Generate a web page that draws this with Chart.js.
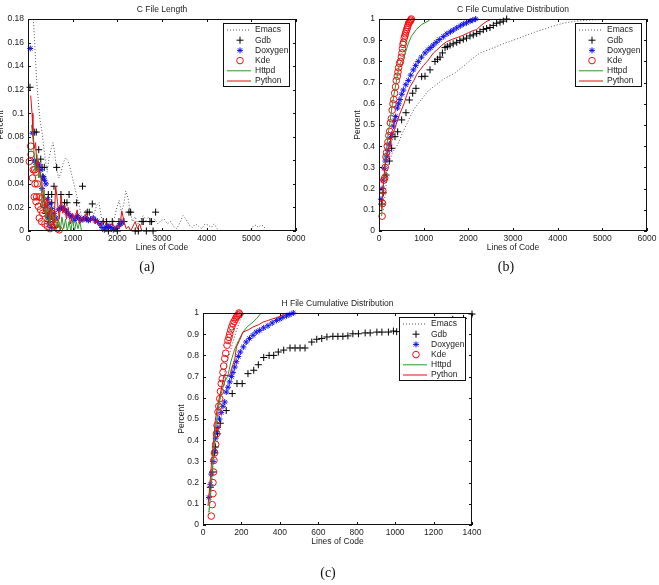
<!DOCTYPE html>
<html lang="en">
<head>
<meta charset="UTF-8">
<title>File Length Distributions</title>
<style>
    body { margin: 0; background: #fff; }
    #page { position: relative; width: 659px; height: 585px; overflow: hidden; }
    canvas { position: absolute; left: 0; top: 0; }
    .tag {
        position: absolute;
        font-family: "Liberation Serif", serif;
        font-size: 14px;
        color: #111;
        transform: translate(-50%, -50%);
    }
</style>
<script src="https://cdn.jsdelivr.net/npm/chart.js"></script>
</head>
<body>
<div id="page">
    <canvas id="chartA" width="659" height="585"></canvas>
    <canvas id="chartB" width="659" height="585"></canvas>
    <canvas id="chartC" width="659" height="585"></canvas>
    <div class="tag" style="left:147px; top:267px">(a)</div>
    <div class="tag" style="left:506px; top:267px">(b)</div>
    <div class="tag" style="left:328px; top:573px">(c)</div>
</div>
<script>
// ---- data: [lines of code, percent] ----
const seriesNames = ['Emacs', 'Gdb', 'Doxygen', 'Kde', 'Httpd', 'Python'];

// (a) C File Length
const aTicksX = [0, 1000, 2000, 3000, 4000, 5000, 6000];
const aTicksY = [0, 0.02, 0.04, 0.06, 0.08, 0.1, 0.12, 0.14, 0.16, 0.18];
const aEmacs = [[100,0.19],[120,0.18],[150,0.16],[190,0.13],[230,0.11],[270,0.094],[310,0.085],[350,0.072],[390,0.06],[430,0.05],
    [470,0.062],[520,0.07],[560,0.075],[600,0.066],[640,0.052],[690,0.045],[740,0.05],[790,0.058],[840,0.062],[890,0.06],
    [940,0.054],[990,0.046],[1040,0.038],[1090,0.03],[1140,0.022],[1190,0.014],[1240,0.01],[1290,0.018],[1340,0.012],[1390,0.008],
    [1440,0.012],[1490,0.016],[1540,0.022],[1590,0.024],[1640,0.012],[1690,0.006],[1740,0.01],[1790,0.004],[1840,0.008],[1890,0.004],
    [1940,0.012],[1990,0.02],[2040,0.026],[2090,0.016],[2140,0.022],[2190,0.034],[2240,0.028],[2290,0.016],[2340,0.008],[2400,0.012],
    [2460,0.006],[2520,0.01],[2580,0.013],[2640,0.009],[2700,0.012],[2770,0.007],[2840,0.01],[2910,0.006],[2980,0.009],[3050,0.01],
    [3120,0.006],[3190,0.008],[3260,0.004],[3330,0.002],[3400,0.007],[3470,0.013],[3540,0.01],[3610,0.005],[3680,0.003],[3750,0.006],
    [3820,0.004],[3890,0.002],[3960,0.006],[4030,0.005],[4100,0.003],[4170,0.006],[4230,0.002],[4300,0],[4980,0],[5040,0.004],
    [5100,0.005],[5160,0.003],[5220,0.005],[5280,0.004],[5320,0.001]];
const aGdb = [[45,0.122],[140,0.084],[185,0.084],[240,0.069],[285,0.061],[250,0.054],[315,0.054],[365,0.054],[642,0.054],[330,0.046],
    [582,0.038],[1220,0.038],[455,0.031],[530,0.031],[738,0.031],[920,0.031],[530,0.024],[818,0.024],[872,0.024],[1090,0.024],
    [1440,0.023],[400,0.015],[1327,0.016],[1372,0.016],[2260,0.016],[2298,0.016],[2857,0.016],[460,0.008],[1685,0.008],[1760,0.008],
    [1887,0.008],[2036,0.008],[2148,0.008],[2551,0.008],[2580,0.008],[2730,0.008],[2767,0.008],[600,0.003],[1800,0],[2000,0],
    [2400,0],[2470,0],[2650,0],[2800,0]];
const aDoxygen = [[50,0.155],[100,0.083],[141,0.06],[170,0.058],[200,0.055],[253,0.056],[290,0.052],[313,0.036],[343,0.046],[370,0.043],
    [403,0.04],[380,0.02],[418,0.015],[440,0.027],[430,0.012],[470,0.006],[492,0.023],[492,0.011],[520,0.003],[530,0.019],
    [582,0.015],[627,0.011],[679,0.018],[715,0.019],[753,0.02],[790,0.019],[828,0.018],[865,0.016],[902,0.015],[940,0.013],
    [977,0.012],[1030,0.009],[1068,0.011],[1105,0.013],[1140,0.011],[1180,0.009],[1230,0.01],[1277,0.011],[1315,0.01],[1351,0.009],
    [1400,0.01],[1463,0.011],[1510,0.009],[1552,0.008],[1612,0.006],[1657,0.003],[1709,0.001],[1745,0.003],[1776,0.004],[1810,0.004],
    [1851,0.003],[1910,0.001],[1950,0.002],[1985,0.002],[2045,0.005],[2075,0.006],[2104,0.008]];
const aKde = [[30,0.059],[60,0.072],[67,0.065],[100,0.045],[119,0.052],[150,0.052],[179,0.05],[157,0.04],[209,0.04],[141,0.029],
    [194,0.029],[253,0.029],[313,0.028],[179,0.025],[231,0.021],[283,0.018],[328,0.015],[253,0.011],[306,0.008],[350,0.022],
    [380,0.006],[400,0.024],[418,0.018],[433,0.004],[460,0.012],[492,0.014],[492,0.002],[520,0.008],[540,0.015],[560,0.01],
    [600,0.005],[627,0.0065],[660,0.002],[700,0.001]];
const aHttpd = [[80,0.09],[120,0.075],[160,0.05],[200,0.065],[240,0.045],[280,0.05],[320,0.02],[360,0.035],[400,0.01],[440,0.025],
    [480,0.005],[520,0.02],[560,0.008],[600,0.015],[640,0.003],[680,0.01],[720,0],[760,0.012],[800,0.002],[840,0.01],
    [880,0],[920,0.008],[960,0],[1000,0.01],[1040,0],[1080,0.008],[1120,0.002],[1160,0.008],[1200,0]];
const aPython = [[60,0.115],[90,0.1],[110,0.085],[140,0.07],[170,0.075],[200,0.055],[230,0.06],[260,0.05],[300,0.045],[340,0.03],
    [380,0.02],[420,0.028],[460,0.012],[500,0.02],[540,0.01],[580,0.005],[620,0.038],[660,0.025],[700,0.01],[740,0.03],
    [780,0.015],[820,0.022],[860,0.01],[900,0.02],[950,0.006],[1000,0.015],[1050,0.01],[1100,0.018],[1150,0.006],[1200,0.012],
    [1250,0.008],[1300,0.015],[1350,0.01],[1400,0.008],[1450,0.012],[1500,0.006],[1550,0.01],[1600,0.004],[1700,0.008],[1800,0.004],
    [1900,0.006],[1950,0.002],[2000,0.005],[2050,0.002],[2100,0.017],[2150,0.008],[2200,0.002],[2250,0.004],[2300,0],[2400,0.008],
    [2450,0.002],[2500,0.006],[2550,0]];

// (b) C File Cumulative Distribution
const bTicksX = [0, 1000, 2000, 3000, 4000, 5000, 6000];
const bTicksY = [0, 0.1, 0.2, 0.3, 0.4, 0.5, 0.6, 0.7, 0.8, 0.9, 1];
const bEmacs = [[100,0.1],[150,0.2],[201,0.31],[300,0.37],[425,0.41],[520,0.46],[612,0.5],[700,0.54],[798,0.58],[950,0.62],
    [1097,0.66],[1280,0.69],[1470,0.72],[1700,0.745],[1963,0.79],[2100,0.815],[2261,0.84],[2450,0.855],[2634,0.87],[2800,0.885],
    [3007,0.9],[3200,0.915],[3380,0.93],[3550,0.943],[3753,0.956],[3950,0.97],[4127,0.98],[4400,0.99],[4724,0.995],[5000,0.998],[5200,1]];
const bGdb = [[60,0.127],[97,0.18],[157,0.264],[231,0.33],[284,0.39],[358,0.445],[418,0.468],[507,0.524],[604,0.558],[679,0.618],
    [754,0.65],[828,0.673],[955,0.728],[1030,0.73],[1142,0.76],[1254,0.8],[1310,0.81],[1366,0.82],[1420,0.84],[1478,0.865],
    [1530,0.87],[1590,0.877],[1660,0.883],[1740,0.89],[1810,0.898],[1888,0.905],[1960,0.91],[2037,0.92],[2110,0.925],[2187,0.932],
    [2260,0.94],[2336,0.95],[2410,0.955],[2485,0.96],[2560,0.97],[2634,0.98],[2710,0.985],[2783,0.99],[2858,1]];
const bDoxygen = [[45,0.15],[70,0.2],[90,0.24],[119,0.296],[145,0.33],[171,0.35],[200,0.38],[231,0.41],[260,0.44],[284,0.456],
    [321,0.495],[350,0.52],[373,0.54],[410,0.58],[440,0.6],[470,0.62],[510,0.645],[545,0.665],[600,0.69],[657,0.71],
    [710,0.735],[768,0.76],[820,0.78],[880,0.8],[950,0.82],[1030,0.84],[1100,0.855],[1160,0.865],[1216,0.877],[1280,0.89],
    [1350,0.903],[1440,0.917],[1520,0.93],[1600,0.94],[1664,0.948],[1740,0.958],[1820,0.968],[1888,0.976],[1960,0.982],[2040,0.99],
    [2100,0.995],[2164,1]];
const bKde = [[70,0.07],[80,0.13],[85,0.19],[110,0.24],[127,0.25],[140,0.3],[157,0.35],[170,0.37],[185,0.4],[201,0.42],
    [220,0.45],[239,0.47],[255,0.51],[276,0.53],[295,0.57],[313,0.6],[330,0.62],[350,0.65],[370,0.68],[388,0.71],
    [410,0.73],[425,0.75],[440,0.77],[460,0.79],[480,0.8],[500,0.82],[515,0.84],[525,0.86],[537,0.88],[550,0.89],
    [565,0.91],[580,0.92],[589,0.93],[605,0.94],[620,0.95],[635,0.96],[649,0.97],[665,0.98],[680,0.985],[700,0.99],
    [710,0.995],[723,1]];
const bHttpd = [[60,0.07],[80,0.15],[100,0.22],[130,0.3],[160,0.37],[200,0.45],[250,0.52],[300,0.6],[350,0.66],[400,0.72],
    [450,0.78],[500,0.8],[575,0.83],[649,0.88],[723,0.918],[835,0.95],[947,0.973],[1097,0.99],[1160,1]];
const bPython = [[60,0.1],[90,0.2],[130,0.3],[170,0.35],[220,0.4],[300,0.45],[380,0.5],[460,0.55],[560,0.6],[620,0.64],
    [694,0.68],[780,0.71],[850,0.74],[920,0.76],[992,0.78],[1080,0.8],[1150,0.82],[1220,0.84],[1291,0.853],[1400,0.875],
    [1515,0.893],[1650,0.905],[1780,0.915],[1888,0.924],[2000,0.935],[2100,0.945],[2187,0.95],[2260,0.965],[2350,0.98],[2420,0.99],
    [2485,0.995],[2500,1]];

// (c) H File Cumulative Distribution
const cTicksX = [0, 200, 400, 600, 800, 1000, 1200, 1400];
const cTicksY = [0, 0.1, 0.2, 0.3, 0.4, 0.5, 0.6, 0.7, 0.8, 0.9, 1];
const cEmacs = [[30,0.06],[40,0.15],[50,0.25],[60,0.35],[70,0.45],[85,0.55],[100,0.65],[115,0.73],[135,0.8],[155,0.86],
    [175,0.92],[195,0.97],[215,1]];
const cGdb = [[38,0.178],[50,0.25],[61,0.34],[64,0.368],[75,0.43],[90,0.48],[121,0.54],[152,0.62],[177,0.667],[204,0.667],
    [234,0.714],[264,0.73],[288,0.756],[316,0.79],[344,0.8],[368,0.8],[392,0.816],[420,0.825],[453,0.835],[479,0.835],
    [505,0.835],[531,0.835],[566,0.863],[592,0.876],[618,0.88],[645,0.887],[676,0.89],[702,0.89],[728,0.89],[754,0.892],
    [780,0.902],[809,0.902],[844,0.906],[870,0.906],[905,0.91],[931,0.91],[965,0.91],[991,0.915],[1008,0.912],[1050,0.92],
    [1100,0.93],[1150,0.94],[1200,0.95],[1250,0.96],[1300,0.97],[1356,0.975],[1400,0.995]];
const cDoxygen = [[31,0.13],[38,0.19],[43,0.24],[52,0.3],[61,0.35],[66,0.41],[72,0.44],[78,0.46],[86,0.5],[95,0.53],
    [104,0.56],[113,0.58],[121,0.627],[130,0.65],[139,0.675],[148,0.7],[156,0.72],[165,0.745],[173,0.77],[184,0.795],
    [194,0.816],[210,0.84],[225,0.863],[242,0.88],[260,0.895],[277,0.91],[295,0.918],[316,0.93],[338,0.94],[360,0.953],
    [382,0.965],[400,0.972],[416,0.98],[435,0.987],[452,0.993],[470,1]];
const cKde = [[43,0.042],[48,0.096],[52,0.148],[52,0.2],[55,0.25],[57,0.305],[60,0.34],[66,0.38],[70,0.43],[73,0.47],
    [78,0.533],[82,0.56],[87,0.596],[91,0.63],[95,0.667],[100,0.69],[104,0.72],[108,0.75],[113,0.785],[118,0.81],
    [125,0.848],[130,0.87],[135,0.885],[139,0.9],[145,0.92],[150,0.935],[156,0.95],[162,0.96],[168,0.97],[173,0.98],
    [178,0.985],[183,0.99],[187,1],[190,0.995]];
const cHttpd = [[31,0.06],[40,0.15],[48,0.25],[56,0.35],[65,0.45],[75,0.52],[85,0.58],[95,0.62],[110,0.67],[130,0.706],
    [145,0.77],[165,0.83],[185,0.87],[208,0.91],[230,0.935],[260,0.957],[280,0.975],[303,1]];
const cPython = [[26,0.09],[35,0.18],[45,0.3],[55,0.4],[65,0.5],[80,0.58],[95,0.64],[109,0.705],[139,0.705],[150,0.74],
    [165,0.78],[174,0.84],[190,0.87],[208,0.91],[235,0.92],[260,0.934],[290,0.945],[312,0.957],[340,0.965],[364,0.973],
    [390,0.98],[416,0.99],[430,1]];

// ---- styling ----
const FONT = '"Liberation Sans", Arial, sans-serif';
const styles = {
    Emacs:   { line: true, color: '#555555', dash: [1, 2] },
    Gdb:     { point: 'cross', color: '#000000', radius: 3.5 },
    Doxygen: { point: 'star', color: '#1010ee', radius: 3 },
    Kde:     { point: 'circle', color: '#ee1010', radius: 3.3 },
    Httpd:   { line: true, color: '#2a9a2a' },
    Python:  { line: true, color: '#e01010' }
};

function toPts(arr) {
    return arr.map(p => ({ x: p[0], y: p[1] }));
}

function makeDataset(name, arr, i) {
    const s = styles[name];
    if (s.line) {
        return {
            label: name, data: toPts(arr), showLine: true,
            borderColor: s.color, backgroundColor: s.color, borderWidth: 1,
            borderDash: s.dash || [], pointRadius: 0, order: 6 - i
        };
    }
    return {
        label: name, data: toPts(arr), showLine: false,
        pointStyle: s.point, pointRadius: s.radius,
        pointBorderColor: s.color,
        pointBackgroundColor: s.point === 'star' ? s.color : 'rgba(0,0,0,0)',
        pointBorderWidth: 1, borderColor: s.color, clip: false, order: 6 - i
    };
}

function fmt(v) {
    return String(+v.toFixed(2));
}

function makePanel(id, p) {
    const W = 659, H = 585;

    // frame, inward ticks, labels and legend drawn on top of the data, MATLAB style
    const framePlugin = {
        id: 'frame',
        afterDatasetsDraw(chart) {
            const ctx = chart.ctx;
            const a = chart.chartArea;
            const xs = chart.scales.x, ys = chart.scales.y;
            const L = a.left, R = a.right, T = a.top, B = a.bottom;
            ctx.save();
            ctx.strokeStyle = '#111';
            ctx.lineWidth = 1;
            ctx.strokeRect(L + 0.5, T + 0.5, R - L - 1, B - T - 1);

            ctx.beginPath();
            p.xTicks.forEach(v => {
                const x = Math.round(xs.getPixelForValue(v)) + 0.5;
                ctx.moveTo(x, B); ctx.lineTo(x, B - 3);
                ctx.moveTo(x, T); ctx.lineTo(x, T + 3);
            });
            p.yTicks.forEach(v => {
                const y = Math.round(ys.getPixelForValue(v)) + 0.5;
                ctx.moveTo(L, y); ctx.lineTo(L + 3, y);
                ctx.moveTo(R, y); ctx.lineTo(R - 3, y);
            });
            ctx.stroke();

            ctx.fillStyle = '#222';
            ctx.font = '8.5px ' + FONT;
            ctx.textBaseline = 'middle';
            ctx.textAlign = 'center';
            p.xTicks.forEach(v => ctx.fillText(fmt(v), xs.getPixelForValue(v), B + 7.5));
            ctx.textAlign = 'right';
            p.yTicks.forEach(v => ctx.fillText(fmt(v), L - 4, ys.getPixelForValue(v)));

            ctx.textAlign = 'center';
            ctx.fillText(p.title, (L + R) / 2, T - 9.5);
            ctx.fillText('Lines of Code', (L + R) / 2, B + 17);
            ctx.save();
            ctx.translate(p.yLabelX, (T + B) / 2);
            ctx.rotate(-Math.PI / 2);
            ctx.fillText('Percent', 0, 0);
            ctx.restore();

            // legend box
            const lx = p.legend[0], ly = p.legend[1];
            ctx.fillStyle = '#fff';
            ctx.fillRect(lx, ly, 67, 64);
            ctx.strokeStyle = '#111';
            ctx.strokeRect(lx + 0.5, ly + 0.5, 66, 63);
            seriesNames.forEach((name, i) => {
                const s = styles[name];
                const y = ly + 7 + i * 10.2;
                if (s.line) {
                    ctx.strokeStyle = s.color;
                    ctx.setLineDash(s.dash || []);
                    ctx.beginPath();
                    ctx.moveTo(lx + 4, y); ctx.lineTo(lx + 28, y);
                    ctx.stroke();
                    ctx.setLineDash([]);
                } else {
                    ctx.strokeStyle = s.color;
                    ctx.fillStyle = s.point === 'star' ? s.color : 'rgba(0,0,0,0)';
                    Chart.helpers.drawPoint(ctx, { pointStyle: s.point, radius: s.radius, borderWidth: 1, rotation: 0 }, lx + 17, y);
                }
                ctx.fillStyle = '#222';
                ctx.textAlign = 'left';
                ctx.fillText(name, lx + 32, y);
            });
            ctx.restore();
        }
    };

    new Chart(document.getElementById(id), {
        type: 'scatter',
        data: { datasets: seriesNames.map((n, i) => makeDataset(n, p.series[i], i)) },
        options: {
            responsive: false,
            animation: false,
            devicePixelRatio: 1,
            events: [],
            layout: { padding: { left: p.area[0], top: p.area[1], right: W - p.area[2], bottom: H - p.area[3] } },
            plugins: { legend: { display: false }, tooltip: { enabled: false }, title: { display: false } },
            scales: {
                x: { type: 'linear', display: false, min: p.xTicks[0], max: p.xTicks[p.xTicks.length - 1] },
                y: { type: 'linear', display: false, min: p.yTicks[0], max: p.yTicks[p.yTicks.length - 1] }
            }
        },
        plugins: [framePlugin]
    });
}

makePanel('chartA', {
    area: [28, 19, 296, 231], title: 'C File Length', yLabelX: 1,
    xTicks: aTicksX, yTicks: aTicksY, legend: [223, 23],
    series: [aEmacs, aGdb, aDoxygen, aKde, aHttpd, aPython]
});
makePanel('chartB', {
    area: [379, 19, 647, 231], title: 'C File Cumulative Distribution', yLabelX: 358,
    xTicks: bTicksX, yTicks: bTicksY, legend: [575, 23],
    series: [bEmacs, bGdb, bDoxygen, bKde, bHttpd, bPython]
});
makePanel('chartC', {
    area: [203, 313, 472, 525], title: 'H File Cumulative Distribution', yLabelX: 182,
    xTicks: cTicksX, yTicks: cTicksY, legend: [399, 317],
    series: [cEmacs, cGdb, cDoxygen, cKde, cHttpd, cPython]
});
</script>
</body>
</html>
